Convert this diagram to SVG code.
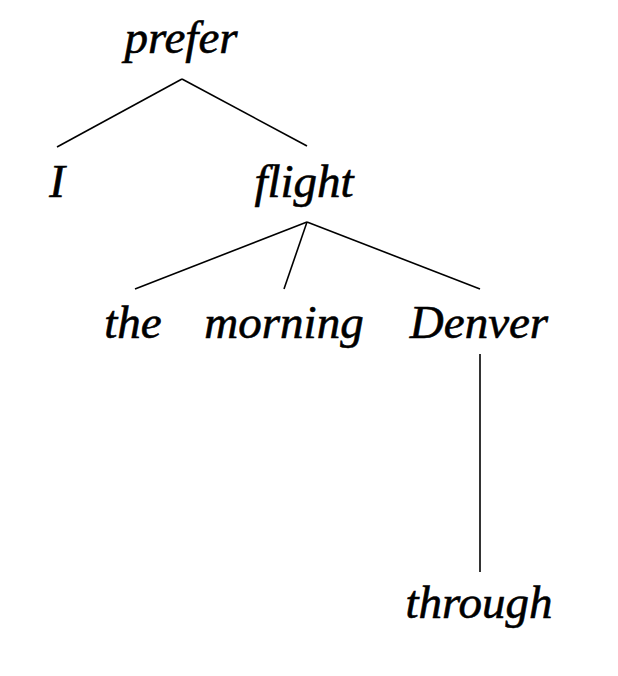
<svg xmlns="http://www.w3.org/2000/svg" width="618" height="676" viewBox="0 0 618 676">
<style>
.lbl{font-family:"Liberation Serif","Times New Roman",serif;font-style:italic;font-size:47px;fill:#000;stroke:#000;stroke-width:0.6;text-anchor:middle}
.edge{stroke:#000;stroke-width:1.6;fill:none}
</style>
<rect width="618" height="676" fill="#fff"/>
<g id="connectors">
<line class="edge" x1="182" y1="79" x2="57" y2="147"/>
<line class="edge" x1="182" y1="79" x2="307" y2="146"/>
<line class="edge" x1="307" y1="222" x2="135" y2="289"/>
<line class="edge" x1="307" y1="222" x2="284" y2="289"/>
<line class="edge" x1="307" y1="222" x2="480" y2="289"/>
<line class="edge" x1="480" y1="354" x2="480" y2="572"/>
</g>
<g id="node-prefer"><text class="lbl" x="181" y="53">prefer</text></g>
<g id="node-I"><text class="lbl" x="57" y="197">I</text></g>
<g id="node-flight"><text class="lbl" x="304" y="197">flight</text></g>
<g id="node-the"><text class="lbl" x="133" y="338">the</text></g>
<g id="node-morning"><text class="lbl" x="284" y="338">morning</text></g>
<g id="node-Denver"><text class="lbl" x="479" y="338">Denver</text></g>
<g id="node-through"><text class="lbl" x="479" y="618">through</text></g>
</svg>
